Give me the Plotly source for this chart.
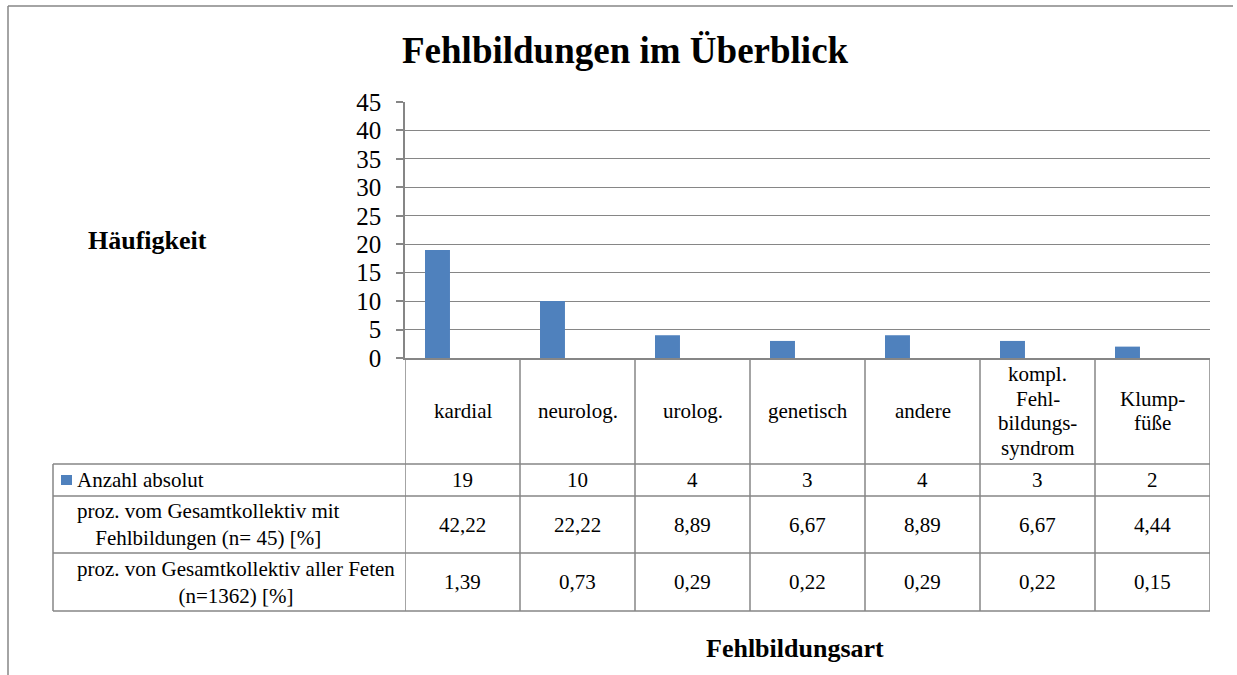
import plotly.graph_objects as go

# ---- data ----
categories = ["kardial", "neurolog.", "urolog.", "genetisch", "andere",
              "kompl.\nFehl-\nbildungs-\nsyndrom", "Klump-\nfüße"]
anzahl_absolut = [19, 10, 4, 3, 4, 3, 2]
proz_fehlbildungen = [42.22, 22.22, 8.89, 6.67, 8.89, 6.67, 4.44]
proz_alle_feten = [1.39, 0.73, 0.29, 0.22, 0.29, 0.22, 0.15]
row_labels = ["Anzahl absolut",
              "proz. vom Gesamtkollektiv mit<br>Fehlbildungen (n= 45) [%]",
              "proz. von Gesamtkollektiv aller Feten<br>(n=1362) [%]"]
y_ticks = [0, 5, 10, 15, 20, 25, 30, 35, 40, 45]
title_text = "Fehlbildungen im Überblick"
y_title = "Häufigkeit"
x_title = "Fehlbildungsart"

# ---- layout constants (pixels) ----
W, H = 1237, 675
PL, PR, PT, PB = 405, 1210, 102, 358
TABLE_LEFT = 53
ROW_LINES = [464, 496, 553, 611]
FONT = "'Liberation Serif', 'Times New Roman', serif"
GRAY = "#868686"
BLUE = "#4F81BD"
LW = 1.5


def px(x):
    return x / W


def py(y):
    return 1 - y / H


def de(v):
    return f"{v:.2f}".replace(".", ",")


n = len(categories)
idx = list(range(n))

fig = go.Figure()
fig.add_trace(go.Bar(
    x=idx, y=anzahl_absolut, name="Anzahl absolut",
    marker=dict(color=BLUE, line=dict(width=0)),
    width=0.217, offset=-0.326, showlegend=False,
))

shapes = []
line = dict(color=GRAY, width=LW)
# outer chart border
shapes.append(dict(type="line", xref="paper", yref="paper", x0=px(8), x1=px(1233), y0=py(6), y1=py(6), line=line))
shapes.append(dict(type="line", xref="paper", yref="paper", x0=px(8), x1=px(8), y0=py(6), y1=py(675), line=line))
# table horizontal lines
for yy in ROW_LINES:
    shapes.append(dict(type="line", xref="paper", yref="paper", x0=px(TABLE_LEFT), x1=px(PR),
                       y0=py(yy), y1=py(yy), line=line))
# table left edge
shapes.append(dict(type="line", xref="paper", yref="paper", x0=px(TABLE_LEFT), x1=px(TABLE_LEFT),
                   y0=py(ROW_LINES[0]), y1=py(ROW_LINES[-1]), line=line))
# column dividers
for i in range(n + 1):
    shapes.append(dict(type="line", xref="x", yref="paper", x0=i - 0.5, x1=i - 0.5,
                       y0=py(PB), y1=py(ROW_LINES[-1]), line=line))
# legend key
shapes.append(dict(type="rect", xref="paper", yref="paper", x0=px(61), x1=px(72),
                   y0=py(475), y1=py(485), fillcolor=BLUE, line=dict(width=0)))

ann = []
tf = dict(family=FONT, size=21, color="black")
# header category labels
HEAD_C = (PB + ROW_LINES[0]) / 2
for i, c in enumerate(categories):
    parts = c.split("\n")
    k = len(parts)
    for j, p in enumerate(parts):
        yc = HEAD_C + (j - (k - 1) / 2) * 24.5
        ann.append(dict(x=i, y=py(yc), xref="x", yref="paper", text=p, showarrow=False,
                        xanchor="center", yanchor="middle", font=tf))
# table value rows
rows = [[str(v) for v in anzahl_absolut],
        [de(v) for v in proz_fehlbildungen],
        [de(v) for v in proz_alle_feten]]
for r, vals in enumerate(rows):
    yc = (ROW_LINES[r] + ROW_LINES[r + 1]) / 2
    for i, v in enumerate(vals):
        ann.append(dict(x=i, y=py(yc), xref="x", yref="paper", text=v, showarrow=False,
                        xanchor="center", yanchor="middle", font=tf))
    ann.append(dict(x=px(75), y=py(yc), xref="paper", yref="paper", text=row_labels[r],
                    showarrow=False, xanchor="left", yanchor="middle", align="center", font=tf))
# titles
ann.append(dict(x=px(625), y=py(50), xref="paper", yref="paper", text=f"<b>{title_text}</b>",
                showarrow=False, xanchor="center", yanchor="middle",
                font=dict(family=FONT, size=37, color="black")))
ann.append(dict(x=px(147), y=py(240), xref="paper", yref="paper", text=f"<b>{y_title}</b>",
                showarrow=False, xanchor="center", yanchor="middle",
                font=dict(family=FONT, size=26, color="black")))
ann.append(dict(x=px(795), y=py(648), xref="paper", yref="paper", text=f"<b>{x_title}</b>",
                showarrow=False, xanchor="center", yanchor="middle",
                font=dict(family=FONT, size=26, color="black")))

fig.update_layout(
    width=W, height=H,
    margin=dict(l=0, r=0, t=0, b=0, pad=0, autoexpand=False),
    paper_bgcolor="white", plot_bgcolor="white",
    showlegend=False,
    xaxis=dict(domain=[px(PL), px(PR)], range=[-0.5, n - 0.5], showticklabels=False,
               showgrid=False, zeroline=False, showline=True, linecolor=GRAY, linewidth=LW,
               ticks="", fixedrange=True, automargin=False),
    yaxis=dict(domain=[py(PB), py(PT)], range=[0, 45], tickvals=y_ticks,
               ticks="outside", ticklen=7, tickcolor=GRAY, tickwidth=LW,
               showgrid=True, gridcolor=GRAY, gridwidth=1.3, zeroline=False,
               showline=True, linecolor=GRAY, linewidth=LW,
               tickfont=dict(family=FONT, size=25, color="black"),
               ticklabelstandoff=10, fixedrange=True, automargin=False),
    shapes=shapes, annotations=ann,
)

fig.write_html("out.html", config={"responsive": False, "displayModeBar": False},
               post_script="document.body.style.margin='0';document.body.style.overflow='hidden';")
